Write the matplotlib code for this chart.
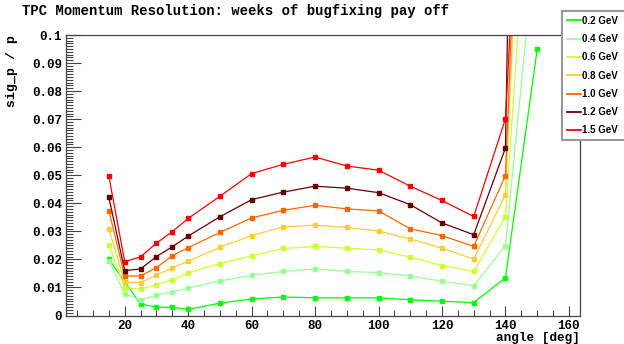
import matplotlib

matplotlib.use("Agg")
import matplotlib.pyplot as plt
from matplotlib.ticker import MultipleLocator, FuncFormatter

# polar angle of the track [deg]
angles = [15, 20, 25, 30, 35, 40, 50, 60, 70, 80, 90, 100, 110, 120, 130, 140, 150]

res_02 = [0.0201, 0.0120, 0.0041, 0.0030, 0.0029, 0.0022, 0.0044, 0.0059, 0.0066,
          0.0063, 0.0063, 0.0063, 0.0056, 0.0051, 0.0046, 0.0135, 0.0949]
res_04 = [0.0194, 0.0077, 0.0055, 0.0072, 0.0084, 0.0098, 0.0123, 0.0143, 0.0157,
          0.0166, 0.0157, 0.0153, 0.0141, 0.0122, 0.0106, 0.0249, 0.140]
res_06 = [0.0252, 0.0099, 0.0093, 0.0110, 0.0128, 0.0152, 0.0185, 0.0213, 0.0239,
          0.0246, 0.0240, 0.0234, 0.0208, 0.0178, 0.0157, 0.0352, 0.201]
res_08 = [0.0309, 0.0119, 0.0117, 0.0144, 0.0170, 0.0193, 0.0243, 0.0285, 0.0316,
          0.0322, 0.0314, 0.0301, 0.0273, 0.0240, 0.0201, 0.0431, 0.294]
res_10 = [0.0374, 0.0141, 0.0141, 0.0171, 0.0213, 0.0242, 0.0296, 0.0348, 0.0375,
          0.0393, 0.0380, 0.0373, 0.0309, 0.0285, 0.0246, 0.0499, 0.328]
res_12 = [0.0422, 0.0160, 0.0166, 0.0210, 0.0245, 0.0283, 0.0352, 0.0413, 0.0440,
          0.0461, 0.0454, 0.0438, 0.0395, 0.0330, 0.0288, 0.0597, 0.69]
res_15 = [0.0497, 0.0192, 0.0209, 0.0258, 0.0299, 0.0346, 0.0425, 0.0506, 0.0539,
          0.0565, 0.0533, 0.0518, 0.0461, 0.0410, 0.0353, 0.0701, 0.284]

labels = ["0.2 GeV", "0.4 GeV", "0.6 GeV", "0.8 GeV", "1.0 GeV", "1.2 GeV", "1.5 GeV"]
series = [res_02, res_04, res_06, res_08, res_10, res_12, res_15]
colors = ["#00ff00", "#99ff99", "#ccff33", "#ffcc33", "#ff6600", "#660000", "#ff0000"]

mono = "Liberation Mono"
sans = "Liberation Sans"
frame_col = "#444444"

fig = plt.figure(figsize=(6.24, 3.44), dpi=100)
ax = fig.add_axes([66 / 624, 28.5 / 344, 514 / 624, 280.5 / 344])

for vals, lab, col in zip(series, labels, colors):
    ax.plot(angles, vals, color=col, lw=0.9, marker="s", ms=3.2,
            mec=col, mfc=col, label=lab)

ax.set_xlim(1.5, 163.5)
ax.set_ylim(0, 0.1)
ax.xaxis.set_major_locator(MultipleLocator(20))
ax.xaxis.set_minor_locator(MultipleLocator(5))
ax.yaxis.set_major_locator(MultipleLocator(0.01))
ax.yaxis.set_minor_locator(MultipleLocator(0.001))
ax.yaxis.set_major_formatter(FuncFormatter(lambda v, _: f"{v:.2f}".rstrip("0").rstrip(".") if v else "0"))

ax.tick_params(axis="x", which="major", direction="in", length=7, width=0.8,
               color=frame_col, pad=3)
ax.tick_params(axis="x", which="minor", direction="in", length=4, width=0.8, color=frame_col)
ax.tick_params(axis="y", which="major", direction="in", length=11, width=0.8,
               color=frame_col, pad=3)
ax.tick_params(axis="y", which="minor", direction="in", length=5, width=0.8, color=frame_col)
for lab in ax.get_xticklabels() + ax.get_yticklabels():
    lab.set_fontfamily(mono)
    lab.set_fontweight("bold")
    lab.set_fontsize(9)
for sp in ax.spines.values():
    sp.set_color(frame_col)
    sp.set_linewidth(0.9)

fig.text(22 / 624, 1 - 11 / 344, "TPC Momentum Resolution: weeks of bugfixing pay off",
         family=mono, weight="bold", fontsize=10, ha="left", va="center")
fig.text(12.5 / 624, 1 - 35 / 344, "sig_p / p", family=mono, weight="bold",
         fontsize=9.5, rotation=90, ha="center", va="top")
fig.text(580 / 624, 1 - 338 / 344, "angle [deg]", family=mono, weight="bold",
         fontsize=9.2, ha="right", va="center")

leg_handles = [plt.Line2D([], [], color=c, lw=1.3) for c in colors]
leg = fig.legend(leg_handles, labels, loc="upper left",
                 bbox_to_anchor=(562 / 624, 0, 0.2, 1 - 11 / 344), mode="expand",
                 prop={"family": sans, "weight": "bold", "size": 7},
                 handlelength=1.45, handletextpad=0.15, labelspacing=0.85,
                 borderpad=0.5, borderaxespad=0, fancybox=False,
                 edgecolor="#999999", framealpha=1, shadow=False)
leg.get_frame().set_linewidth(1.5)

fig.savefig("out.png", dpi=100)
